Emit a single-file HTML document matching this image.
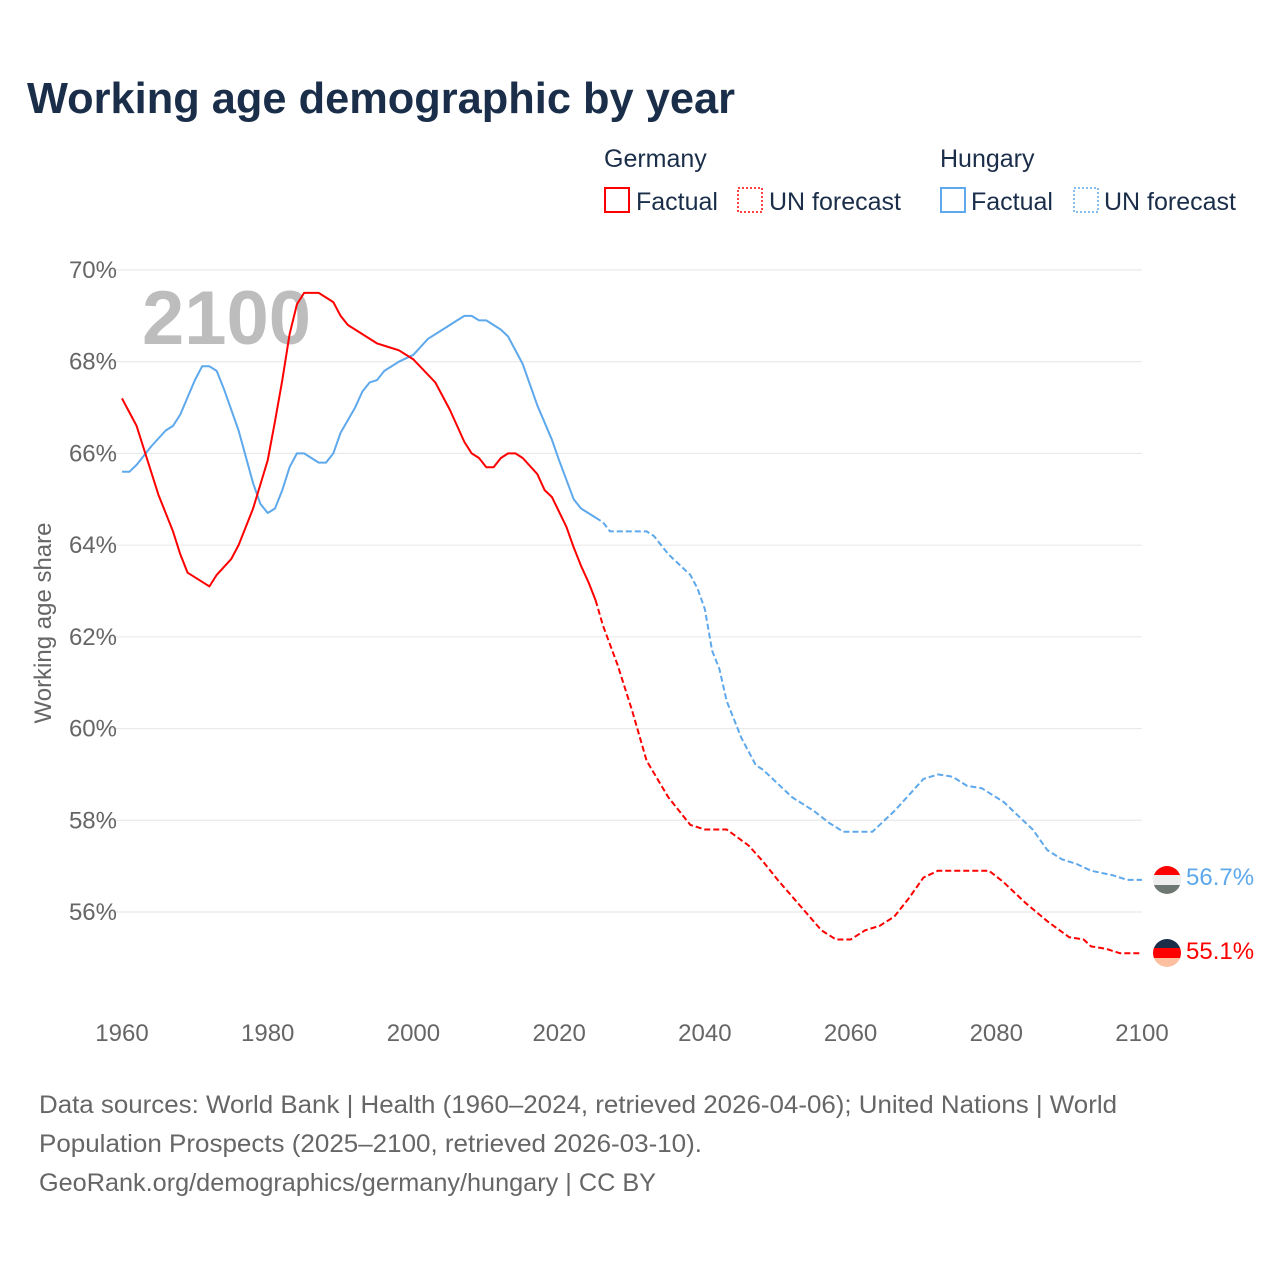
<!DOCTYPE html>
<html><head><meta charset="utf-8"><style>
body{margin:0;background:#fff;font-family:"Liberation Sans",sans-serif}
svg text{font-family:"Liberation Sans",sans-serif}
</style></head><body>
<svg id="chart" width="1280" height="1280" xmlns="http://www.w3.org/2000/svg">
<text x="27" y="113" font-size="44" font-weight="bold" fill="#1a2e4a" textLength="708" lengthAdjust="spacingAndGlyphs">Working age demographic by year</text>
<g font-size="25" fill="#1a2e4a">
<text x="604" y="167">Germany</text>
<text x="940" y="167">Hungary</text>
<g><rect x="605" y="188" width="24" height="24" fill="none" stroke="#f00" stroke-width="2"/><text x="636" y="210">Factual</text></g>
<g><rect x="738" y="188" width="24" height="24" fill="none" stroke="#f00" stroke-width="1.5" stroke-dasharray="2,2"/><text x="769" y="210">UN forecast</text></g>
<g><rect x="941" y="188" width="24" height="24" fill="none" stroke="#5ea8ec" stroke-width="2"/><text x="971" y="210">Factual</text></g>
<g><rect x="1074" y="188" width="24" height="24" fill="none" stroke="#5ea8ec" stroke-width="1.5" stroke-dasharray="2,2"/><text x="1104" y="210">UN forecast</text></g>
</g>
<g id="grid"></g>
<g id="yticks" font-size="24" fill="#666" text-anchor="end"></g>
<g id="xticks" font-size="24" fill="#666" text-anchor="middle"></g>
<text transform="translate(51,623) rotate(-90)" font-size="24" fill="#666" text-anchor="middle">Working age share</text>
<text x="142" y="344" font-size="76" font-weight="bold" fill="#bdbdbd">2100</text>
<g id="series"></g>
<g>
<clipPath id="c1"><circle cx="1167" cy="880" r="14"/></clipPath>
<g clip-path="url(#c1)"><rect x="1150" y="864" width="34" height="11" fill="#f00"/><rect x="1150" y="875" width="34" height="10" fill="#eee"/><rect x="1150" y="885" width="34" height="12" fill="#6f7773"/></g>
<clipPath id="c2"><circle cx="1167" cy="953" r="14"/></clipPath>
<g clip-path="url(#c2)"><rect x="1150" y="937" width="34" height="11" fill="#1a2e4a"/><rect x="1150" y="948" width="34" height="10" fill="#f00"/><rect x="1150" y="958" width="34" height="12" fill="#fcc0a0"/></g>
<text x="1186" y="885" font-size="24" fill="#5ea8ec">56.7%</text>
<text x="1186" y="959" font-size="24" fill="#f00">55.1%</text>
</g>
<g font-size="25" fill="#666">
<text x="39" y="1113" textLength="1078" lengthAdjust="spacingAndGlyphs">Data sources: World Bank | Health (1960–2024, retrieved 2026-04-06); United Nations | World</text>
<text x="39" y="1152" textLength="663" lengthAdjust="spacingAndGlyphs">Population Prospects (2025–2100, retrieved 2026-03-10).</text>
<text x="39" y="1191" textLength="617" lengthAdjust="spacingAndGlyphs">GeoRank.org/demographics/germany/hungary | CC BY</text>
</g>
</svg>
<script>
const yTicks=[56,58,60,62,64,66,68,70];
const xTicks=[1960,1980,2000,2020,2040,2060,2080,2100];
const deYears=[1960,1962,1965,1967,1968,1969,1971,1972,1973,1975,1976,1978,1980,1981,1982,1983,1984,1985,1987,1989,1990,1991,1995,1997,1998,2000,2003,2005,2007,2008,2009,2010,2011,2012,2013,2014,2015,2017,2018,2019,2021,2022,2023,2024,2025];
const deVals=[67.2,66.6,65.1,64.3,63.8,63.4,63.2,63.1,63.35,63.7,64.0,64.8,65.85,66.7,67.6,68.6,69.25,69.5,69.5,69.3,69.0,68.8,68.4,68.3,68.25,68.05,67.55,66.95,66.25,66.0,65.9,65.7,65.7,65.9,66.0,66.0,65.9,65.55,65.2,65.05,64.4,63.95,63.55,63.2,62.8];
const deFcYears=[2025,2026,2028,2030,2032,2035,2038,2040,2043,2046,2048,2050,2053,2056,2058,2060,2062,2064,2066,2068,2070,2072,2075,2079,2081,2084,2087,2090,2092,2093,2095,2097,2100];
const deFcVals=[62.8,62.25,61.4,60.4,59.3,58.5,57.9,57.8,57.8,57.45,57.1,56.7,56.15,55.6,55.4,55.4,55.6,55.7,55.9,56.3,56.75,56.9,56.9,56.9,56.65,56.2,55.8,55.45,55.4,55.25,55.2,55.1,55.1];
const huYears=[1960,1961,1962,1964,1966,1967,1968,1970,1971,1972,1973,1974,1976,1978,1979,1980,1981,1982,1983,1984,1985,1987,1988,1989,1990,1992,1993,1994,1995,1996,1998,2000,2002,2004,2006,2007,2008,2009,2010,2012,2013,2015,2017,2019,2020,2022,2023,2025];
const huVals=[65.6,65.6,65.75,66.15,66.5,66.6,66.85,67.6,67.9,67.9,67.8,67.4,66.5,65.35,64.9,64.7,64.8,65.2,65.7,66.0,66.0,65.8,65.8,66.0,66.45,67.0,67.35,67.55,67.6,67.8,68.0,68.15,68.5,68.7,68.9,69.0,69.0,68.9,68.9,68.7,68.55,67.95,67.05,66.3,65.85,65.0,64.8,64.6];
const huFcYears=[2025,2026,2027,2032,2033,2035,2038,2039,2040,2041,2042,2043,2045,2047,2048,2050,2052,2055,2057,2059,2063,2066,2068,2070,2071,2072,2074,2076,2078,2081,2083,2085,2087,2089,2091,2093,2096,2098,2100];
const huFcVals=[64.6,64.5,64.3,64.3,64.2,63.8,63.35,63.05,62.6,61.7,61.3,60.6,59.8,59.2,59.1,58.8,58.5,58.2,57.95,57.75,57.75,58.2,58.55,58.9,58.95,59.0,58.95,58.75,58.7,58.4,58.1,57.8,57.35,57.15,57.05,56.9,56.8,56.7,56.7];
const NS="http://www.w3.org/2000/svg";
const X=y=>122+(y-1960)*(1020/140);
const Y=v=>270+(70-v)*(642/14);
const grid=document.getElementById('grid'),yt=document.getElementById('yticks'),xt=document.getElementById('xticks'),ser=document.getElementById('series');
yTicks.forEach(t=>{
 const l=document.createElementNS(NS,'line');
 
 
 l.setAttribute('x1',110);l.setAttribute('x2',1142);l.setAttribute('y1',Y(t));l.setAttribute('y2',Y(t));
 l.setAttribute('stroke','#e6e6e6');l.setAttribute('stroke-width','1');grid.appendChild(l);
 const s=document.createElementNS(NS,'text');
 
 
 s.setAttribute('x',117);s.setAttribute('y',Y(t)+8);s.textContent=t+'%';yt.appendChild(s);
});
xTicks.forEach(t=>{
 const s=document.createElementNS(NS,'text');
 
 
 s.setAttribute('x',X(t));s.setAttribute('y',1041);s.textContent=t;xt.appendChild(s);
});
function line(xs,vs,color,dash,name){
 const p=document.createElementNS(NS,'path');
 
 
 p.setAttribute('d',xs.map((x,i)=>(i?'L':'M')+X(x).toFixed(1)+','+Y(vs[i]).toFixed(1)).join(''));
 p.setAttribute('fill','none');p.setAttribute('stroke',color);p.setAttribute('stroke-width','2');
 p.setAttribute('stroke-linejoin','round');
 if(dash)p.setAttribute('stroke-dasharray',dash);
 ser.appendChild(p);
}
line(huYears,huVals,'#5ea8ec',null,'hungary-factual-line');
line(huFcYears,huFcVals,'#5ea8ec','6,3','hungary-forecast-line');
line(deYears,deVals,'#f00',null,'germany-factual-line');
line(deFcYears,deFcVals,'#f00','6,3','germany-forecast-line');
</script>
</body></html>
